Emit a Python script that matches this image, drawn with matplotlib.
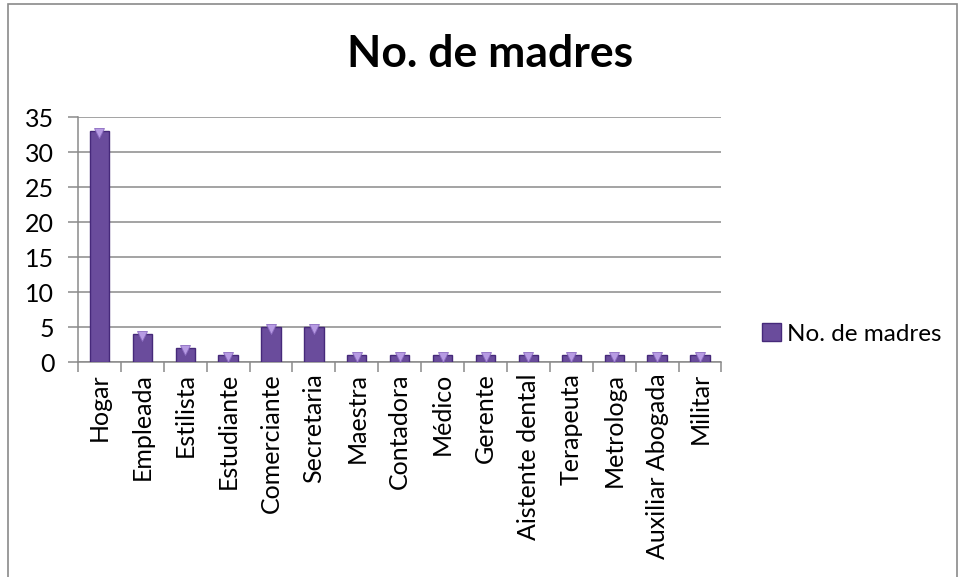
import numpy as np
import matplotlib.pyplot as plt
from matplotlib.patches import Rectangle

plt.rcParams['font.family'] = ['Lato', 'DejaVu Sans']

# Occupations of the mothers and counts
categories = ['Hogar', 'Empleada', 'Estilista', 'Estudiante', 'Comerciante',
              'Secretaria', 'Maestra', 'Contadora', 'Médico', 'Gerente',
              'Aistente dental', 'Terapeuta', 'Metrologa', 'Auxiliar Abogada',
              'Militar']
madres = [33, 4, 2, 1, 5, 5, 1, 1, 1, 1, 1, 1, 1, 1, 1]

fig = plt.figure(figsize=(9.59, 5.77), dpi=100)
ax = fig.add_axes([0.0813, 0.3726, 0.671, 0.4245])

x = np.arange(len(categories))
bars = ax.bar(x, madres, width=0.45, color='#6A4C9C', edgecolor='#46297A',
              linewidth=1.0, label='No. de madres', zorder=3)
# light bevel on top of each bar
ax.plot(x, np.array(madres) - 0.3, linestyle='none', marker='v', markersize=7,
        color='#B79BE3', markeredgecolor='#8B6BC0', markeredgewidth=0.6, zorder=4)

ax.set_ylim(0, 35)
ax.set_xlim(-0.5, len(categories) - 0.5)
ax.set_yticks(range(0, 36, 5))
ax.yaxis.grid(True, color='#8a8a8a', linewidth=1.1, zorder=0)
ax.set_axisbelow(True)

ax.set_xticks(x)
ax.set_xticklabels(categories, rotation=90, fontsize=18)
ax.tick_params(axis='x', length=0, pad=8)
ax.set_xticks(np.arange(-0.5, len(categories), 1), minor=True)
ax.tick_params(axis='x', which='minor', length=7, width=1.1, color='#8a8a8a')
ax.tick_params(axis='y', labelsize=18, length=7, width=1.1, color='#8a8a8a', pad=10)

for side in ['top', 'right']:
    ax.spines[side].set_visible(False)
for side in ['left', 'bottom']:
    ax.spines[side].set_color('#8a8a8a')
    ax.spines[side].set_linewidth(1.1)

fig.text(0.511, 0.906, 'No. de madres', ha='center', va='center',
         fontsize=32, fontweight='bold')

fig.legend(handles=[bars], loc='center left', bbox_to_anchor=(0.795, 0.421),
           frameon=False, fontsize=17.5, handlelength=0.75, handleheight=0.75,
           handletextpad=0.25, borderpad=0, borderaxespad=0)

fig.patches.append(Rectangle((0.008, -0.01), 0.99, 1.003, transform=fig.transFigure,
                             fill=False, edgecolor='#8a8a8a', linewidth=1.2))

fig.savefig('out.png', dpi=100)
